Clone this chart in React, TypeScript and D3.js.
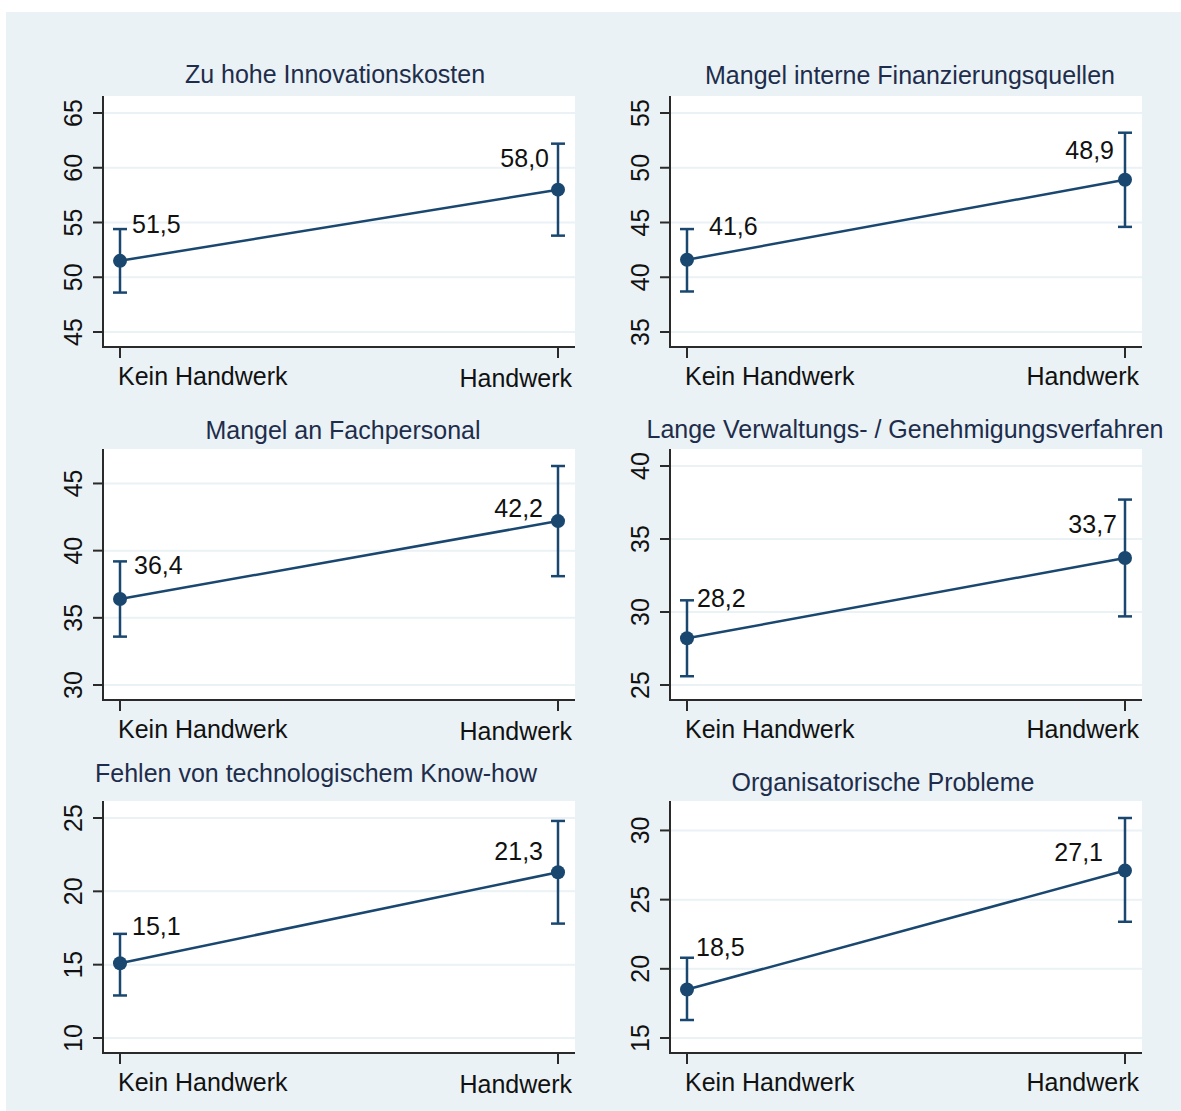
import React, { useEffect, useRef } from 'react';
import * as d3 from 'd3';

// data (Stata graph combine, 6 panels)
const titles = [
  'Zu hohe Innovationskosten',
  'Mangel interne Finanzierungsquellen',
  'Mangel an Fachpersonal',
  'Lange Verwaltungs- / Genehmigungsverfahren',
  'Fehlen von technologischem Know-how',
  'Organisatorische Probleme',
];
const groups = ['Kein Handwerk', 'Handwerk'];
const means = [
  [51.5, 58.0],
  [41.6, 48.9],
  [36.4, 42.2],
  [28.2, 33.7],
  [15.1, 21.3],
  [18.5, 27.1],
];
const lower = [
  [48.6, 53.8],
  [38.7, 44.6],
  [33.6, 38.1],
  [25.6, 29.7],
  [12.9, 17.8],
  [16.3, 23.4],
];
const upper = [
  [54.4, 62.2],
  [44.4, 53.2],
  [39.2, 46.3],
  [30.8, 37.7],
  [17.1, 24.8],
  [20.8, 30.9],
];
const yTicks = [
  [45, 50, 55, 60, 65],
  [35, 40, 45, 50, 55],
  [30, 35, 40, 45],
  [25, 30, 35, 40],
  [10, 15, 20, 25],
  [15, 20, 25, 30],
];

// layout
const W = 1181;
const H = 1111;
const colLeft = [103, 670];
const colRight = [575, 1142];
const rowTop = [96, 449, 801];
const rowBottom = [347, 700, 1053];
const titleX = [335, 910, 343, 905, 316, 883];
const titleY = [83, 84, 439, 438, 782, 791];
// [left dx, left dy, right dx, right dy] of the value labels
const labelNudge = [
  [12, -28, -9, -23],
  [22, -25, -11, -21],
  [14, -25, -15, -4],
  [10, -31, -8, -25],
  [12, -28, -15, -12],
  [9, -34, -22, -10],
];

const navy = '#1a476f';
const axisCol = '#2a2a2a';
const bg = '#eaf2f5';
const font = 'Liberation Sans, Arial, sans-serif';

const fmt = (v: number) => v.toFixed(1).replace('.', ',');

export default function App() {
  const ref = useRef<SVGSVGElement>(null);

  useEffect(() => {
    const svg = d3.select(ref.current);
    svg.selectAll('*').remove();

    svg.append('rect').attr('x', 0).attr('y', 0).attr('width', W).attr('height', H).attr('fill', '#fff');
    svg.append('rect').attr('x', 6).attr('y', 12).attr('width', W - 6).attr('height', H - 12).attr('fill', bg);

    titles.forEach((title, i) => {
      const col = i % 2;
      const row = Math.floor(i / 2);
      const left = colLeft[col];
      const right = colRight[col];
      const top = rowTop[row];
      const bottom = rowBottom[row];

      const lo = d3.min([...yTicks[i], ...lower[i]]) as number;
      const hi = d3.max([...yTicks[i], ...upper[i]]) as number;
      const y = d3.scaleLinear().domain([lo, hi]).range([bottom - 15, top + 17]);
      const x = d3.scalePoint<string>().domain(groups).range([left + 17, right - 17]);

      const g = svg.append('g');

      g.append('rect')
        .attr('x', left).attr('y', top)
        .attr('width', right - left).attr('height', bottom - top)
        .attr('fill', '#fff');

      g.selectAll('.grid')
        .data(yTicks[i])
        .enter()
        .append('line')
        .attr('x1', left).attr('x2', right)
        .attr('y1', d => y(d)).attr('y2', d => y(d))
        .attr('stroke', bg).attr('stroke-width', 2);

      const pts = groups.map((grp, j) => ({ grp, m: means[i][j], lo: lower[i][j], hi: upper[i][j], j }));

      g.append('path')
        .datum(pts)
        .attr('d', d3.line<any>().x(d => x(d.grp) as number).y(d => y(d.m)))
        .attr('fill', 'none').attr('stroke', navy).attr('stroke-width', 2.5);

      const bars = g.selectAll('.ci').data(pts).enter().append('g');
      bars.append('line')
        .attr('x1', d => x(d.grp) as number).attr('x2', d => x(d.grp) as number)
        .attr('y1', d => y(d.lo)).attr('y2', d => y(d.hi))
        .attr('stroke', navy).attr('stroke-width', 2.5);
      [(d: any) => d.lo, (d: any) => d.hi].forEach(acc => {
        bars.append('line')
          .attr('x1', d => (x(d.grp) as number) - 7).attr('x2', d => (x(d.grp) as number) + 7)
          .attr('y1', d => y(acc(d))).attr('y2', d => y(acc(d)))
          .attr('stroke', navy).attr('stroke-width', 2.5);
      });
      bars.append('circle')
        .attr('cx', d => x(d.grp) as number).attr('cy', d => y(d.m))
        .attr('r', 7).attr('fill', navy);

      const nud = labelNudge[i];
      bars.append('text')
        .attr('x', d => (x(d.grp) as number) + (d.j === 0 ? nud[0] : nud[2]))
        .attr('y', d => y(d.m) + (d.j === 0 ? nud[1] : nud[3]))
        .attr('text-anchor', d => (d.j === 0 ? 'start' : 'end'))
        .attr('font-family', font).attr('font-size', 25).attr('fill', '#111')
        .text(d => fmt(d.m));

      // axes
      g.append('line')
        .attr('x1', left).attr('x2', left).attr('y1', top).attr('y2', bottom + 1)
        .attr('stroke', axisCol).attr('stroke-width', 2);
      g.append('line')
        .attr('x1', left - 1).attr('x2', right).attr('y1', bottom).attr('y2', bottom)
        .attr('stroke', axisCol).attr('stroke-width', 2);

      const yt = g.selectAll('.yt').data(yTicks[i]).enter().append('g');
      yt.append('line')
        .attr('x1', left - 10).attr('x2', left)
        .attr('y1', d => y(d)).attr('y2', d => y(d))
        .attr('stroke', axisCol).attr('stroke-width', 2);
      yt.append('text')
        .attr('transform', d => `translate(${left - 21},${y(d)}) rotate(-90)`)
        .attr('text-anchor', 'middle')
        .attr('font-family', font).attr('font-size', 25).attr('fill', '#111')
        .text(d => d);

      const xt = g.selectAll('.xt').data(groups).enter().append('g');
      xt.append('line')
        .attr('x1', d => x(d) as number).attr('x2', d => x(d) as number)
        .attr('y1', bottom).attr('y2', bottom + 11)
        .attr('stroke', axisCol).attr('stroke-width', 2);
      xt.append('text')
        .attr('x', (d, j) => (j === 0 ? (x(d) as number) - 2 : right - 3))
        .attr('y', (d, j) => bottom + 38 + (j === 1 && col === 0 ? 2 : 0))
        .attr('text-anchor', (d, j) => (j === 0 ? 'start' : 'end'))
        .attr('font-family', font).attr('font-size', 25).attr('fill', '#111')
        .text(d => d);

      g.append('text')
        .attr('x', titleX[i]).attr('y', titleY[i])
        .attr('text-anchor', 'middle')
        .attr('font-family', font).attr('font-size', 25).attr('fill', '#1e2d4b')
        .text(title);
    });
  }, []);

  return <svg ref={ref} width={W} height={H} style={{ position: 'absolute', left: 0, top: 0 }} />;
}
